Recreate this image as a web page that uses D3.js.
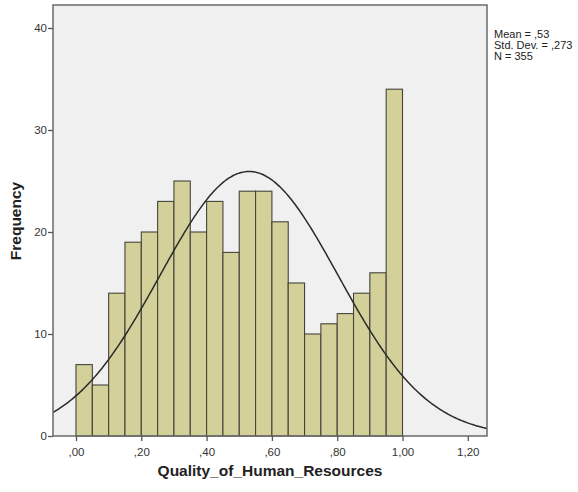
<!DOCTYPE html>
<html>
<head>
<meta charset="utf-8">
<script src="https://cdn.jsdelivr.net/npm/d3@7"></script>
<style>
  html, body { margin: 0; padding: 0; background: #ffffff; }
  svg { display: block; font-family: "Liberation Sans", Arial, sans-serif; }
</style>
</head>
<body>
<svg id="chart" width="578" height="492"></svg>
<script>
// Histogram of Quality_of_Human_Resources with fitted normal curve
const binEdges = [0.00, 0.05, 0.10, 0.15, 0.20, 0.25, 0.30, 0.35, 0.40, 0.45, 0.50,
                  0.55, 0.60, 0.65, 0.70, 0.75, 0.80, 0.85, 0.90, 0.95, 1.00];
const binCounts = [7, 5, 14, 19, 20, 23, 25, 20, 23, 18, 24, 24, 21, 15, 10, 11, 12, 14, 16, 34];
const xTickValues = [0, 0.2, 0.4, 0.6, 0.8, 1.0, 1.2];
const xTickLabels = [",00", ",20", ",40", ",60", ",80", "1,00", "1,20"];
const yTickValues = [0, 10, 20, 30, 40];
const statLabels = ["Mean = ,53", "Std. Dev. = ,273", "N = 355"];
const meanValue = 0.53;
const sdValue = 0.273;
const nValue = 355;

const svg = d3.select("#chart");
const frame = { left: 53, right: 487, top: 5, bottom: 436 };

const x = d3.scaleLinear().domain([0, 1]).range([76, 402.5]);
const xMin = x.invert(frame.left), xMax = x.invert(frame.right);
const y = d3.scaleLinear().domain([0, 40]).range([frame.bottom, 28]);

// plot area background
svg.append("rect")
  .attr("x", frame.left).attr("y", frame.top)
  .attr("width", frame.right - frame.left).attr("height", frame.bottom - frame.top)
  .attr("fill", "#f0f0f0");

// bars
const bins = binCounts.map((c, i) => ({ x0: binEdges[i], x1: binEdges[i + 1], count: c }));
svg.append("g").selectAll("rect").data(bins).join("rect")
  .attr("x", d => x(d.x0))
  .attr("y", d => y(d.count))
  .attr("width", d => x(d.x1) - x(d.x0))
  .attr("height", d => y(0) - y(d.count))
  .attr("fill", "#d4d09a")
  .attr("stroke", "#44443a")
  .attr("stroke-width", 1.1);

// normal curve scaled to counts: N * binWidth * pdf
const binWidth = binEdges[1] - binEdges[0];
const normal = v => nValue * binWidth / (sdValue * Math.sqrt(2 * Math.PI)) *
  Math.exp(-((v - meanValue) ** 2) / (2 * sdValue * sdValue));
const curvePts = d3.range(0, 301).map(i => {
  const v = xMin + (xMax - xMin) * i / 300;
  return [v, normal(v)];
});
svg.append("path")
  .datum(curvePts)
  .attr("d", d3.line().x(d => x(d[0])).y(d => y(d[1])).curve(d3.curveBasis))
  .attr("fill", "none")
  .attr("stroke", "#2a2a2a")
  .attr("stroke-width", 1.5);

// frame border
svg.append("rect")
  .attr("x", frame.left).attr("y", frame.top)
  .attr("width", frame.right - frame.left).attr("height", frame.bottom - frame.top)
  .attr("fill", "none")
  .attr("stroke", "#6a6a6a")
  .attr("stroke-width", 1.5);

// x axis
const xAxis = d3.axisBottom(x)
  .tickValues(xTickValues)
  .tickFormat((d, i) => xTickLabels[i])
  .tickSize(5).tickSizeOuter(0);
const gx = svg.append("g").attr("transform", `translate(0,${frame.bottom})`).call(xAxis);
gx.select(".domain").remove();
gx.selectAll("line").attr("stroke", "#555").attr("stroke-width", 1.3);
gx.selectAll("text").attr("fill", "#333").attr("font-size", 11.5).attr("dy", "1.05em");

// y axis
const yAxis = d3.axisLeft(y).tickValues(yTickValues).tickSize(5).tickSizeOuter(0);
const gy = svg.append("g").attr("transform", `translate(${frame.left},0)`).call(yAxis);
gy.select(".domain").remove();
gy.selectAll("line").attr("stroke", "#555").attr("stroke-width", 1.3);
gy.selectAll("text").attr("fill", "#333").attr("font-size", 11.5).attr("x", -6);

// axis titles
svg.append("text")
  .attr("x", 270).attr("y", 476)
  .attr("text-anchor", "middle")
  .attr("font-size", 15.5).attr("font-weight", "bold").attr("fill", "#222")
  .text("Quality_of_Human_Resources");
svg.append("text")
  .attr("transform", "translate(21,221) rotate(-90)")
  .attr("text-anchor", "middle")
  .attr("font-size", 15.5).attr("font-weight", "bold").attr("fill", "#222")
  .text("Frequency");

// statistics legend
svg.append("g").selectAll("text").data(statLabels).join("text")
  .attr("x", 494)
  .attr("y", (d, i) => 38 + i * 11)
  .attr("font-size", 11).attr("fill", "#222")
  .text(d => d);
</script>
</body>
</html>
